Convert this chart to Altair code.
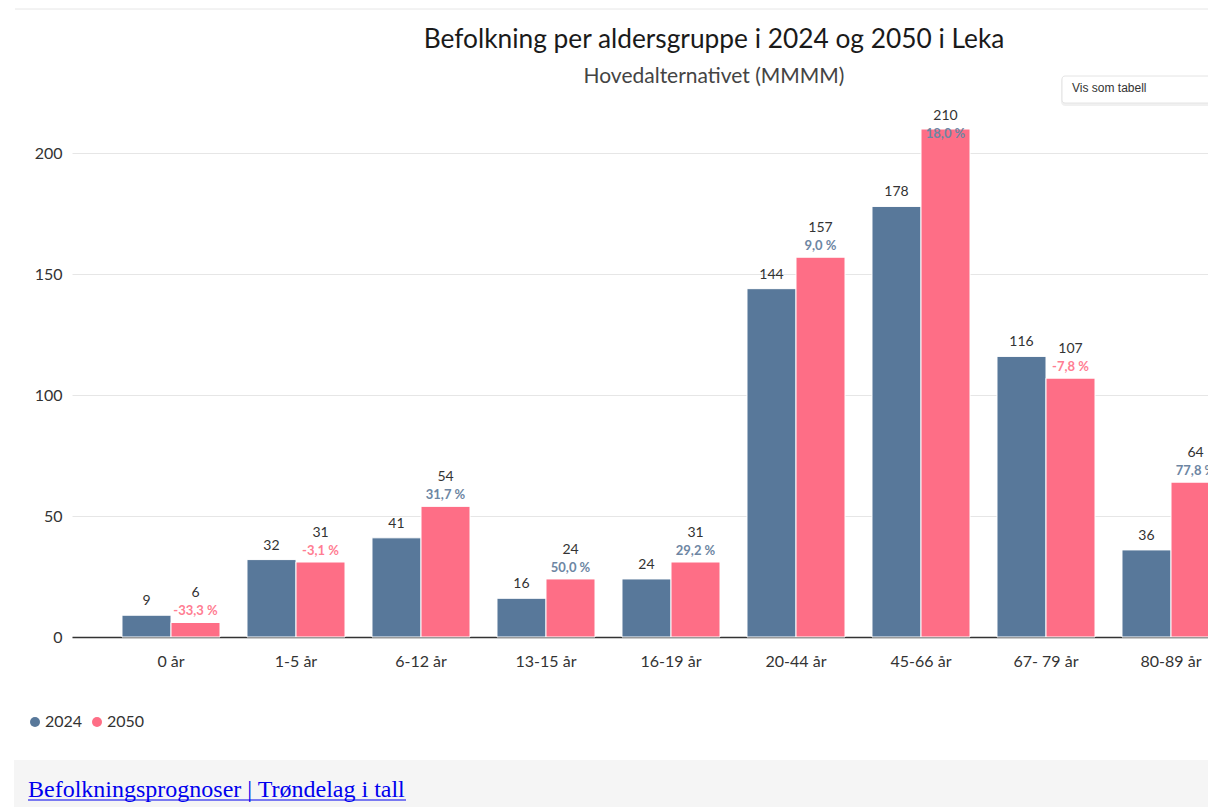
import altair as alt
import pandas as pd

categories = ["0 år", "1-5 år", "6-12 år", "13-15 år", "16-19 år",
              "20-44 år", "45-66 år", "67- 79 år", "80-89 år"]
values_2024 = [9, 32, 41, 16, 24, 144, 178, 116, 36]
values_2050 = [6, 31, 54, 24, 31, 157, 210, 107, 64]
change_2050 = ["-33,3 %", "-3,1 %", "31,7 %", "50,0 %", "29,2 %",
               "9,0 %", "18,0 %", "-7,8 %", "77,8 %"]
years = ["2024", "2050"]
year_colors = ["#58789a", "#fe6e86"]
y_ticks = [0, 50, 100, 150, 200]
title_text = "Befolkning per aldersgruppe i 2024 og 2050 i Leka"
subtitle_text = "Hovedalternativet (MMMM)"
button_text = "Vis som tabell"
footer_link = "Befolkningsprognoser | Trøndelag i tall"

rows = []
for c, a, b, p in zip(categories, values_2024, values_2050, change_2050):
    rows.append({"kategori": c, "aar": "2024", "verdi": a, "endring": "", "positiv": True})
    rows.append({"kategori": c, "aar": "2050", "verdi": b, "endring": p,
                 "positiv": not p.startswith("-")})
df = pd.DataFrame(rows)

FONT = "Lato"

x = alt.X("kategori:N", sort=categories,
          scale=alt.Scale(range=[0, 1198], paddingInner=0, paddingOuter=0.292),
          axis=alt.Axis(title=None, labelAngle=0, ticks=False, grid=False,
                        domainColor="#333333", domainWidth=1.5,
                        labelPadding=16, labelFontSize=16, labelColor="#333333",
                        labelFont=FONT))
xo = alt.XOffset("aar:N", sort=years,
                 scale=alt.Scale(paddingOuter=0.2755, paddingInner=0))
yscale = alt.Scale(domain=[0, 210], nice=False)
y = alt.Y("verdi:Q", scale=yscale,
          axis=alt.Axis(title=None, values=y_ticks, domain=False, ticks=False,
                        labelPadding=10, labelFontSize=16, labelColor="#333333",
                        labelFont=FONT, gridColor="#e6e6e6"))

base = alt.Chart(df)

bars = base.mark_bar(stroke="white", strokeWidth=1).encode(
    x=x, xOffset=xo, y=y,
    color=alt.Color("aar:N", sort=years,
                    scale=alt.Scale(domain=years, range=year_colors),
                    legend=alt.Legend(title=None, orient="none", legendX=-45, legendY=585,
                                      direction="horizontal", symbolType="circle",
                                      symbolSize=100, symbolStrokeWidth=0,
                                      labelFontSize=16, labelColor="#333333",
                                      labelFont=FONT, labelOffset=2, columnPadding=6)),
)

lab2024 = base.transform_filter(alt.datum.aar == "2024").mark_text(
    baseline="bottom", dy=-7, fontSize=14, color="#333333", font=FONT
).encode(x=x, xOffset=xo, y=y, text="verdi:Q")

lab2050 = base.transform_filter(alt.datum.aar == "2050").transform_calculate(
    lab="min(datum.verdi, 203.4)"
).mark_text(
    baseline="bottom", dy=-22, fontSize=14, color="#333333", font=FONT
).encode(x=x, xOffset=xo, y=alt.Y("lab:Q", scale=yscale), text="verdi:Q")

pct2050 = base.transform_filter(alt.datum.aar == "2050").transform_calculate(
    lab="min(datum.verdi, 203.4)"
).mark_text(
    baseline="bottom", dy=-4, fontSize=13, fontWeight="bold", font=FONT
).encode(x=x, xOffset=xo, y=alt.Y("lab:Q", scale=yscale),
         text="endring:N",
         color=alt.condition(alt.datum.positiv, alt.value("#6d86a3"), alt.value("#ff7d92")))

one = pd.DataFrame({"t": [button_text]})
foot = pd.DataFrame({"t": [footer_link]})
ttl = pd.DataFrame({"t": [title_text]})
sub = pd.DataFrame({"t": [subtitle_text]})

title_mark = alt.Chart(ttl).mark_text(align="center", baseline="alphabetic", fontSize=26.3,
                                      font=FONT, color="#1a1a1a").encode(
    x=alt.value(642), y=alt.value(-81.5), text="t:N")
subtitle_mark = alt.Chart(sub).mark_text(align="center", baseline="alphabetic", fontSize=21,
                                         font=FONT, color="#444444").encode(
    x=alt.value(642), y=alt.value(-46), text="t:N")

topline = alt.Chart(one).mark_rule(color="#e6e6e6", strokeWidth=1).encode(
    x=alt.value(-57), x2=alt.value(1150), y=alt.value(-120))

btn_shadow = alt.Chart(one).mark_rect(fill="#000000", opacity=0.06, cornerRadius=4).encode(
    x=alt.value(989), x2=alt.value(1150), y=alt.value(-52), y2=alt.value(-23))
btn = alt.Chart(one).mark_rect(fill="white", stroke="#e4e4e4", cornerRadius=3).encode(
    x=alt.value(990), x2=alt.value(1150), y=alt.value(-53), y2=alt.value(-26))
btn_label = alt.Chart(one).mark_text(align="left", baseline="alphabetic", fontSize=12,
                                     font="Liberation Sans", color="#333333").encode(
    x=alt.value(1000), y=alt.value(-37), text="t:N")

footer_bg = alt.Chart(foot).mark_rect(fill="#f5f5f5").encode(
    x=alt.value(-58), x2=alt.value(1150), y=alt.value(631), y2=alt.value(690))
footer_text = alt.Chart(foot).mark_text(align="left", baseline="alphabetic", fontSize=24,
                                        font="Liberation Serif", color="#0000ee").encode(
    x=alt.value(-44), y=alt.value(668), text="t:N")
footer_line = alt.Chart(foot).mark_rule(color="#0000ee", strokeWidth=1.2).encode(
    x=alt.value(-44), x2=alt.value(334), y=alt.value(671))

chart = alt.layer(
    topline, title_mark, subtitle_mark, bars, lab2024, lab2050, pct2050,
    btn_shadow, btn, btn_label, footer_bg, footer_text, footer_line
).properties(
    width=1136, height=508,
    autosize=alt.AutoSizeParams(type="none"),
    padding={"left": 64, "top": 121, "right": 0, "bottom": 170},
).configure(background="white").configure_view(stroke=None)

chart.save("out.html", embed_options={"renderer": "svg", "actions": False})
